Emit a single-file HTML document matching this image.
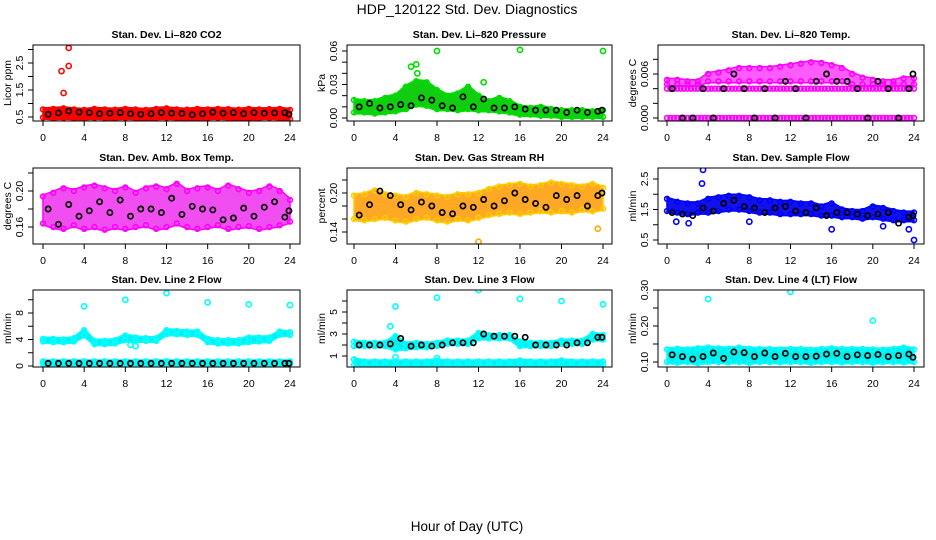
<!DOCTYPE html>
<html><head><meta charset="utf-8"><title>HDP_120122 Std. Dev. Diagnostics</title>
<style>
html,body{margin:0;padding:0;background:#fff;}
svg{display:block;font-family:"Liberation Sans",Arial,sans-serif;}
</style></head>
<body>
<svg id="chart" width="936" height="540" viewBox="0 0 936 540" xmlns="http://www.w3.org/2000/svg">
<text x="467" y="14" font-size="14" text-anchor="middle">HDP_120122  Std. Dev. Diagnostics</text>
<text x="467" y="531" font-size="13.5" text-anchor="middle">Hour of Day (UTC)</text>
</svg>
<script>
// ---- shared category axis ----
const hours = [0,1,2,3,4,5,6,7,8,9,10,11,12,13,14,15,16,17,18,19,20,21,22,23,24];
const xTicks = [0,4,8,12,16,20,24];

// ---- Panel 1: Li-820 CO2 ----
const co2Lo = [0.48,0.45,0.47,0.46,0.45,0.47,0.46,0.45,0.47,0.46,0.44,0.46,0.47,0.45,0.46,0.45,0.46,0.47,0.45,0.46,0.45,0.46,0.47,0.45,0.42];
const co2Hi = [0.78,0.80,0.82,0.78,0.76,0.80,0.78,0.77,0.80,0.78,0.76,0.80,0.82,0.78,0.77,0.80,0.78,0.80,0.79,0.77,0.80,0.78,0.79,0.80,0.76];
const co2Blk = [0.60,0.65,0.72,0.68,0.66,0.62,0.64,0.66,0.62,0.60,0.62,0.66,0.64,0.63,0.58,0.62,0.68,0.64,0.66,0.62,0.66,0.64,0.65,0.66,0.60];
const co2OutX = [1.8,2.0,2.5,2.5];
const co2OutY = [2.2,1.39,2.39,3.06];

// ---- Panel 2: Li-820 Pressure ----
const prLo = [0.005,0.005,0.004,0.005,0.006,0.008,0.012,0.011,0.008,0.008,0.007,0.008,0.007,0.007,0.006,0.005,0.003,0.003,0.002,0.002,0.001,0.001,0.001,0.001,0.001];
const prHi = [0.016,0.015,0.015,0.018,0.020,0.028,0.033,0.032,0.025,0.020,0.022,0.028,0.020,0.015,0.018,0.015,0.010,0.009,0.010,0.008,0.007,0.007,0.007,0.006,0.007];
const prBlk = [0.010,0.013,0.009,0.010,0.012,0.011,0.018,0.016,0.011,0.009,0.019,0.010,0.017,0.009,0.009,0.010,0.008,0.007,0.007,0.007,0.005,0.007,0.005,0.006,0.007];
const prOutX = [5.5,6.0,6.1,8.0,16.0,24.0,12.5];
const prOutY = [0.046,0.048,0.040,0.060,0.061,0.060,0.032];

// ---- Panel 3: Li-820 Temp ----
const tpLo = [0.0046,0.0046,0.0046,0.0046,0.0050,0.0050,0.0050,0.0050,0.0050,0.0050,0.0050,0.0050,0.0050,0.0050,0.0050,0.0050,0.0050,0.0050,0.0046,0.0046,0.0046,0.0046,0.0046,0.0046,0.0046];
const tpHi = [0.0052,0.0052,0.0050,0.0050,0.0060,0.0062,0.0065,0.0068,0.0068,0.0068,0.0068,0.0070,0.0072,0.0074,0.0076,0.0075,0.0072,0.0068,0.0060,0.0055,0.0052,0.0050,0.0050,0.0054,0.0054];
const tpLevA = [0,0,0,0,0,0,0,0,0,0,0,0,0,0,0,0,0,0,0,0,0,0,0,0,0];
const tpLevB = [0.004,0.004,0.004,0.004,0.004,0.004,0.004,0.004,0.004,0.004,0.004,0.004,0.004,0.004,0.004,0.004,0.004,0.004,0.004,0.004,0.004,0.004,0.004,0.004,0.004];
const tpBlk = [0.004,0.000,0.000,0.004,0.000,0.004,0.006,0.004,0.000,0.004,0.000,0.005,0.004,0.000,0.005,0.006,0.005,0.005,0.004,0.000,0.005,0.004,0.000,0.004,0.006];

// ---- Panel 4: Amb. Box Temp ----
const abLo = [0.164,0.160,0.158,0.162,0.158,0.160,0.157,0.160,0.158,0.160,0.162,0.158,0.160,0.164,0.160,0.158,0.160,0.162,0.158,0.160,0.161,0.158,0.160,0.162,0.166];
const abHi = [0.194,0.198,0.203,0.200,0.204,0.206,0.203,0.200,0.204,0.198,0.203,0.205,0.202,0.208,0.200,0.203,0.204,0.200,0.206,0.202,0.198,0.200,0.205,0.200,0.190];
const abBlk = [0.180,0.163,0.185,0.172,0.178,0.188,0.176,0.190,0.172,0.180,0.180,0.176,0.192,0.174,0.183,0.180,0.179,0.168,0.170,0.181,0.172,0.182,0.188,0.171,0.178];

// ---- Panel 5: Gas Stream RH ----
const rhLo = [0.160,0.158,0.160,0.162,0.158,0.156,0.160,0.162,0.158,0.156,0.160,0.158,0.162,0.166,0.168,0.170,0.168,0.170,0.172,0.170,0.172,0.170,0.174,0.172,0.176];
const rhHi = [0.196,0.198,0.204,0.198,0.196,0.194,0.200,0.198,0.196,0.194,0.198,0.198,0.200,0.206,0.210,0.212,0.214,0.210,0.212,0.216,0.214,0.212,0.210,0.214,0.208];
const rhBlk = [0.166,0.182,0.203,0.196,0.182,0.174,0.186,0.180,0.170,0.168,0.180,0.178,0.190,0.180,0.188,0.200,0.190,0.184,0.178,0.196,0.190,0.196,0.180,0.196,0.200];

// ---- Panel 6: Sample Flow ----
const sfLo = [1.45,1.40,1.35,1.40,1.40,1.45,1.50,1.50,1.45,1.40,1.40,1.35,1.35,1.35,1.35,1.30,1.30,1.25,1.25,1.20,1.25,1.20,1.15,1.15,1.15];
const sfHi = [1.85,1.75,1.70,1.70,1.85,1.90,1.95,1.95,1.90,1.80,1.80,1.75,1.75,1.70,1.70,1.60,1.70,1.50,1.45,1.45,1.60,1.55,1.45,1.40,1.40];
const sfBlk = [1.40,1.35,1.30,1.55,1.45,1.70,1.80,1.60,1.55,1.40,1.55,1.60,1.45,1.40,1.55,1.30,1.40,1.40,1.35,1.30,1.35,1.40,1.05,1.25,1.30];
const sfOutX = [3.4,3.5,0.9,2.1,8.0,16.0,21.0,23.5,24.0];
const sfOutY = [2.35,2.80,1.10,1.05,1.10,0.85,0.95,0.85,0.50];

// ---- Panel 7: Line 2 Flow ----
const l2LoA = [0.3,0.3,0.3,0.3,0.3,0.3,0.3,0.3,0.3,0.3,0.3,0.3,0.3,0.3,0.3,0.3,0.3,0.3,0.3,0.3,0.3,0.3,0.3,0.3,0.3];
const l2HiA = [0.7,0.7,0.7,0.7,0.7,0.7,0.7,0.7,0.7,0.7,0.7,0.7,0.7,0.7,0.7,0.7,0.7,0.7,0.7,0.7,0.7,0.7,0.7,0.7,0.7];
const l2LoB = [3.7,3.6,3.6,3.7,4.6,3.3,3.3,3.4,3.9,3.8,3.8,3.8,4.8,4.8,4.7,4.7,3.6,3.4,3.4,3.4,3.6,3.7,3.8,4.7,4.7];
const l2HiB = [4.1,4.1,4.0,4.2,5.4,3.8,3.8,3.9,4.6,4.3,4.2,4.2,5.4,5.3,5.2,5.2,4.1,3.9,3.9,3.9,4.3,4.3,4.3,5.2,5.1];
const l2Blk = [0.4,0.4,0.4,0.4,0.4,0.4,0.4,0.4,0.4,0.4,0.4,0.4,0.4,0.4,0.4,0.4,0.4,0.4,0.4,0.4,0.4,0.4,0.4,0.4,0.4];
const l2OutX = [4.0,8.0,12.0,16.0,20.0,24.0,9.0,8.5];
const l2OutY = [9.0,10.0,11.0,9.6,9.3,9.2,3.0,3.2];

// ---- Panel 8: Line 3 Flow ----
const l3LoA = [0.2,0.2,0.2,0.2,0.2,0.2,0.2,0.2,0.2,0.2,0.2,0.2,0.2,0.2,0.2,0.2,0.2,0.2,0.2,0.2,0.2,0.2,0.2,0.2,0.2];
const l3HiA = [0.7,0.5,0.5,0.5,0.5,0.5,0.5,0.5,0.6,0.5,0.5,0.5,0.5,0.5,0.5,0.5,0.6,0.5,0.5,0.5,0.6,0.5,0.5,0.5,0.5];
const l3LoB = [1.9,1.9,1.9,1.9,1.6,1.7,1.8,1.8,1.9,2.1,2.1,2.1,2.6,2.6,2.6,2.6,1.9,1.9,1.9,1.9,2.1,2.1,2.1,2.5,2.5];
const l3HiB = [2.3,2.2,2.2,2.2,2.8,2.1,2.2,2.1,2.2,2.4,2.4,2.4,3.1,2.9,2.9,2.9,2.3,2.2,2.2,2.2,2.4,2.4,2.4,3.0,2.9];
const l3Blk = [2.0,2.0,2.0,2.1,2.6,1.9,2.0,1.9,2.0,2.2,2.2,2.2,3.0,2.8,2.8,2.8,2.7,2.0,2.0,2.0,2.0,2.2,2.2,2.7,2.7];
const l3OutX = [3.5,4.0,8.0,12.0,16.0,20.0,24.0,4.0,8.0];
const l3OutY = [3.7,5.5,6.3,7.0,6.2,6.0,5.7,0.9,0.8];

// ---- Panel 9: Line 4 (LT) Flow ----
const l4Lo = [0.100,0.098,0.100,0.097,0.100,0.100,0.099,0.100,0.098,0.100,0.100,0.099,0.100,0.100,0.098,0.100,0.100,0.099,0.100,0.100,0.098,0.100,0.100,0.099,0.100];
const l4Hi = [0.135,0.137,0.135,0.138,0.140,0.138,0.137,0.140,0.137,0.136,0.136,0.135,0.136,0.136,0.134,0.136,0.138,0.136,0.136,0.136,0.135,0.134,0.136,0.140,0.135];
const l4Blk = [0.120,0.115,0.108,0.115,0.125,0.110,0.128,0.126,0.115,0.125,0.115,0.124,0.115,0.115,0.116,0.122,0.124,0.115,0.120,0.118,0.121,0.115,0.118,0.122,0.113];
const l4OutX = [4.0,12.0,20.0];
const l4OutY = [0.275,0.295,0.215];

const NS = "http://www.w3.org/2000/svg";
const svg = document.getElementById('chart');

function mk(tag, attrs, parent) {
  const e = document.createElementNS(NS, tag);
  for (const k in attrs) e.setAttribute(k, attrs[k]);
  (parent || svg).appendChild(e);
  return e;
}

const panels = [
  {name:'co2', title:'Stan. Dev. Li\u2013820 CO2', ylab:'Licor ppm', L:33,R:300,T:45,B:121, x0:43,x24:290, v0:0.5,p0:117,v1:2.5,p1:63,
   ticks:[0.5,1,1.5,2,2.5,3], labels:[[0.5,'0.5'],[1.5,'1.5'],[2.5,'2.5']], color:'#ff0000', fill:'#ff0000', op:1,
   bands:[[co2Lo,co2Hi]], levels:[], blk:co2Blk, outX:co2OutX, outY:co2OutY, outColor:'#ff0000'},
  {name:'pressure', title:'Stan. Dev. Li\u2013820 Pressure', ylab:'kPa', L:347,R:612,T:45,B:121, x0:354,x24:603, v0:0,p0:118,v1:0.06,p1:51,
   ticks:[0,0.01,0.02,0.03,0.04,0.05,0.06], labels:[[0,'0.00'],[0.03,'0.03'],[0.06,'0.06']], color:'#00dd00', fill:'#11cc11', op:1,
   bands:[[prLo,prHi]], levels:[], blk:prBlk, outX:prOutX, outY:prOutY, outColor:'#00dd00'},
  {name:'temp', title:'Stan. Dev. Li\u2013820 Temp.', ylab:'degrees C', L:658,R:924,T:45,B:121, x0:667,x24:914, v0:0,p0:118,v1:0.006,p1:74,
   ticks:[0,0.002,0.004,0.006,0.008], labels:[[0,'0.000'],[0.006,'0.006']], color:'#ff00ff', fill:'#ff33ff', op:0.8,
   bands:[[tpLo,tpHi]], levels:[tpLevA,tpLevB], blk:tpBlk, outX:[], outY:[], outColor:'#ff00ff'},
  {name:'amb-box-temp', title:'Stan. Dev. Amb. Box Temp.', ylab:'degrees C', L:33,R:300,T:168,B:244, x0:43,x24:290, v0:0.16,p0:227,v1:0.20,p1:191,
   ticks:[0.16,0.18,0.20,0.22], labels:[[0.16,'0.16'],[0.20,'0.20']], color:'#ff00ff', fill:'#ee22ee', op:0.8,
   bands:[[abLo,abHi]], levels:[], blk:abBlk, outX:[], outY:[], outColor:'#ff00ff'},
  {name:'gas-stream-rh', title:'Stan. Dev. Gas Stream RH', ylab:'percent', L:347,R:612,T:168,B:244, x0:354,x24:603, v0:0.14,p0:232,v1:0.20,p1:193,
   ticks:[0.14,0.16,0.18,0.20,0.22], labels:[[0.14,'0.14'],[0.20,'0.20']], color:'#ffcc00', fill:'#ff9900', op:0.85,
   bands:[[rhLo,rhHi]], levels:[], blk:rhBlk, outX:[12,23.5], outY:[0.125,0.145], outColor:'#ffaa00'},
  {name:'sample-flow', title:'Stan. Dev. Sample Flow', ylab:'ml/min', L:658,R:924,T:168,B:244, x0:667,x24:914, v0:0.5,p0:240,v1:2.5,p1:179,
   ticks:[0.5,1,1.5,2,2.5], labels:[[0.5,'0.5'],[1.5,'1.5'],[2.5,'2.5']], color:'#0000ff', fill:'#1111ee', op:1,
   bands:[[sfLo,sfHi]], levels:[], blk:sfBlk, outX:sfOutX, outY:sfOutY, outColor:'#0000ff'},
  {name:'line2-flow', title:'Stan. Dev. Line 2 Flow', ylab:'ml/min', L:33,R:300,T:290,B:367, x0:43,x24:290, v0:0,p0:366,v1:8,p1:313,
   ticks:[0,2,4,6,8,10], labels:[[0,'0'],[4,'4'],[8,'8']], color:'#00ffff', fill:'#00f0f0', op:1,
   bands:[[l2LoA,l2HiA],[l2LoB,l2HiB]], levels:[], blk:l2Blk, outX:l2OutX, outY:l2OutY, outColor:'#00ffff'},
  {name:'line3-flow', title:'Stan. Dev. Line 3 Flow', ylab:'ml/min', L:347,R:612,T:290,B:367, x0:354,x24:603, v0:1,p0:356,v1:5,p1:312,
   ticks:[1,2,3,4,5,6], labels:[[1,'1'],[3,'3'],[5,'5']], color:'#00ffff', fill:'#00f0f0', op:1,
   bands:[[l3LoA,l3HiA],[l3LoB,l3HiB]], levels:[], blk:l3Blk, outX:l3OutX, outY:l3OutY, outColor:'#00ffff'},
  {name:'line4-flow', title:'Stan. Dev. Line 4 (LT) Flow', ylab:'ml/min', L:658,R:924,T:290,B:367, x0:667,x24:914, v0:0.10,p0:362,v1:0.30,p1:290,
   ticks:[0.10,0.15,0.20,0.25,0.30], labels:[[0.10,'0.10'],[0.20,'0.20'],[0.30,'0.30']], color:'#00ffff', fill:'#00f0f0', op:1,
   bands:[[l4Lo,l4Hi]], levels:[], blk:l4Blk, outX:l4OutX, outY:l4OutY, outColor:'#00ffff'}
];

panels.forEach(function(p){
  const g = mk('g', {});
  
  
  const xs = function(h){ return p.x0 + h/24*(p.x24 - p.x0); };
  const ys = function(v){ return p.p0 + (v - p.v0)*(p.p1 - p.p0)/(p.v1 - p.v0); };
  const clip = 'clip-' + p.name;
  const cp = mk('clipPath', {id: clip}, g);
  mk('rect', {x:p.L, y:p.T, width:p.R-p.L, height:p.B-p.T}, cp);
  const marks = mk('g', {'clip-path':'url(#'+clip+')'}, g);

  p.bands.forEach(function(b){
    const lo = b[0], hi = b[1];
    let d = '';
    hours.forEach(function(h,i){ d += (i? 'L':'M') + xs(h).toFixed(1) + ' ' + (ys(hi[i])-1.5).toFixed(1); });
    for (let i = hours.length-1; i >= 0; i--) d += 'L' + xs(hours[i]).toFixed(1) + ' ' + (ys(lo[i])+1.5).toFixed(1);
    const band = mk('path', {d: d + 'Z', fill: p.fill, 'fill-opacity': p.op, stroke: p.color, 'stroke-width': 1.5, 'stroke-linejoin':'round'}, marks);
    
    
    hours.forEach(function(h,i){
      [lo[i], hi[i]].forEach(function(v){
        const c = mk('circle', {cx: xs(h), cy: ys(v), r: 2.4, fill:'none', stroke: p.color, 'stroke-width': 1.6}, marks);
        
        
      });
    });
  });
  p.levels.forEach(function(lv){
    hours.forEach(function(h,i){
      [h, h+0.33, h+0.66].forEach(function(hh){
        if (hh > 24) return;
        const c = mk('circle', {cx: xs(hh), cy: ys(lv[i]), r: 2.4, fill:'none', stroke: p.color, 'stroke-width': 1.6}, marks);
        
        
      });
    });
  });
  p.outX.forEach(function(h,i){
    const c = mk('circle', {cx: xs(h), cy: ys(p.outY[i]), r: 2.6, fill:'none', stroke: p.outColor, 'stroke-width': 1.6}, marks);
    
    
  });
  hours.forEach(function(h,i){
    const hx = Math.min(h + 0.5, 23.9);
    const c = mk('circle', {cx: xs(hx), cy: ys(p.blk[i]), r: 2.6, fill:'none', stroke:'#000', 'stroke-width': 1.7}, marks);
    
    
  });

  const fr = mk('rect', {x:p.L, y:p.T, width:p.R-p.L, height:p.B-p.T, fill:'none', stroke:'#000', 'stroke-width':1}, g);
  
  
  const t = mk('text', {x:(p.L+p.R)/2, y:p.T-7, 'font-size':10.5, 'font-weight':'bold', 'text-anchor':'middle'}, g);
  t.textContent = p.title;
  
  
  const ya = mk('g', {}, g);
  
  
  const yt0 = ys(p.ticks[0]), yt1 = ys(p.ticks[p.ticks.length-1]);
  mk('line', {x1:p.L, x2:p.L, y1:yt0, y2:yt1, stroke:'#000'}, ya);
  p.ticks.forEach(function(v){
    mk('line', {x1:p.L-5, x2:p.L, y1:ys(v), y2:ys(v), stroke:'#000'}, ya);
  });
  p.labels.forEach(function(lb){
    const tx = mk('text', {x:0, y:0, 'font-size':10.5, 'text-anchor':'middle', transform:'translate(' + (p.L-10) + ',' + ys(lb[0]) + ') rotate(-90)'}, ya);
    tx.textContent = lb[1];
    
    
  });
  const yl = mk('text', {x:0, y:0, 'font-size':10.5, 'text-anchor':'middle', transform:'translate(' + (p.L-22) + ',' + ((p.T+p.B)/2) + ') rotate(-90)'}, g);
  yl.textContent = p.ylab;
  
  
  const xa = mk('g', {}, g);
  
  
  xTicks.forEach(function(h){
    mk('line', {x1:xs(h), x2:xs(h), y1:p.B, y2:p.B+5, stroke:'#000'}, xa);
    const tx = mk('text', {x:xs(h), y:p.B+20, 'font-size':10.5, 'text-anchor':'middle'}, xa);
    tx.textContent = String(h);
    
    
  });
});
</script>
</body></html>
